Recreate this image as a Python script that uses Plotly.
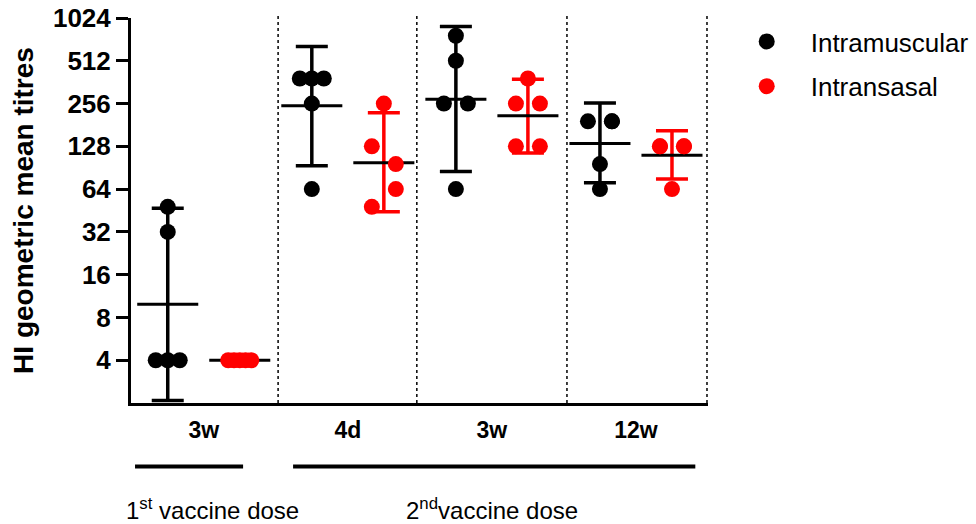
import plotly.graph_objects as go

# ---------------- data ----------------
groups = ["3w", "4d", "3w", "12w"]
series_names = ["Intramuscular", "Intransasal"]

im_values = [[4, 4, 4, 32, 48],
             [384, 384, 384, 256, 64],
             [768, 512, 256, 256, 64],
             [192, 192, 192, 96, 64]]
in_values = [[4, 4, 4, 4, 4],
             [256, 128, 96, 64, 48],
             [384, 256, 256, 128, 128],
             [128, 128, 128, 128, 64]]

im_gmt = [9.9, 247, 274, 134]
in_gmt = [4, 98, 210, 111]

im_err_hi = [47, 646, 892, 258]
im_err_lo = [2.08, 93.6, 85, 71]
in_err_hi = [4, 221, 380, 165]
in_err_lo = [4, 44.3, 115, 75.5]

# horizontal spread of overlapping points (in point-widths)
im_jitter = [[-1, 0, 1, 0, 0], [-1, 0, 1, 0, 0], [0, 0, -1, 1, 0], [-1, 1, 1, 0, 0]]
in_jitter = [[-0.96, -0.48, 0, 0.48, 0.96], [0, -1, 1, 1, -1], [0, -1, 1, -1, 1], [-1, 1, -1, 1, 0]]

dose_labels = ["1<sup>st</sup> vaccine dose", "2<sup>nd</sup>vaccine dose"]

# ---------------- styling ----------------
FONT = "Liberation Sans, Arial, Helvetica, sans-serif"
BLACK = "#000000"
RED = "#FF0000"
OFFSET = 0.25
STEP = 0.0833
y_ticks = [4, 8, 16, 32, 64, 128, 256, 512, 1024]

fig = go.Figure()

series = [
    (series_names[0], im_values, im_gmt, im_err_hi, im_err_lo, im_jitter, -OFFSET, BLACK),
    (series_names[1], in_values, in_gmt, in_err_hi, in_err_lo, in_jitter, OFFSET, RED),
]

for name, vals, gmt, hi, lo, jit, off, col in series:
    xc = [i + off for i in range(len(groups))]
    # mean line + error bars
    fig.add_trace(go.Scatter(
        x=xc, y=gmt, mode="markers", showlegend=False, legendgroup=name,
        hoverinfo="skip",
        marker=dict(symbol="line-ew", size=43.6, color=BLACK,
                    line=dict(width=3, color=BLACK)),
        error_y=dict(type="data", symmetric=False,
                     array=[h - m for h, m in zip(hi, gmt)],
                     arrayminus=[m - l for m, l in zip(gmt, lo)],
                     color=col, thickness=3.5, width=16),
    ))
    # individual points
    px, py = [], []
    for i, (gv, gj) in enumerate(zip(vals, jit)):
        for v, j in zip(gv, gj):
            px.append(i + off + j * STEP)
            py.append(v)
    fig.add_trace(go.Scatter(
        x=px, y=py, mode="markers", name=name, legendgroup=name,
        marker=dict(symbol="circle", size=16, color=col, line=dict(width=0)),
    ))

# dotted group separators
for sx in [0.516, 1.479, 2.521, 3.493]:
    fig.add_shape(type="line", xref="x", yref="paper", x0=sx, x1=sx, y0=0, y1=1.013,
                  line=dict(color=BLACK, width=1.5, dash="dot"))

# dose bracket lines below the axis
for x0, x1 in [(-0.477, 0.273), (0.62, 3.412)]:
    fig.add_shape(type="line", xref="x", yref="paper", x0=x0, x1=x1, y0=-0.165, y1=-0.165,
                  line=dict(color=BLACK, width=4))

for xt, txt in zip([0.06, 2.0], dose_labels):
    fig.add_annotation(x=xt, y=-0.275, xref="x", yref="paper", text=txt, showarrow=False,
                       xanchor="center", yanchor="middle",
                       font=dict(family=FONT, size=24, color=BLACK))

fig.update_layout(
    width=976, height=524,
    margin=dict(l=131, r=268, t=18, b=121, autoexpand=False),
    paper_bgcolor="white", plot_bgcolor="white",
    font=dict(family=FONT, color=BLACK),
    legend=dict(x=1.0255, y=1.0, xanchor="left", yanchor="top",
                font=dict(family=FONT, size=26, color=BLACK),
                itemwidth=78, tracegroupgap=8, bgcolor="rgba(0,0,0,0)"),
    xaxis=dict(range=[-0.505, 3.5], tickvals=list(range(len(groups))), ticktext=groups,
               showline=True, linewidth=3, linecolor=BLACK, ticks="",
               showgrid=False, zeroline=False, automargin=False, ticklabelstandoff=4,
               tickfont=dict(family=FONT, size=23, color=BLACK, weight="bold")),
    yaxis=dict(type="log", range=[0.30103, 3.0103], tickvals=y_ticks,
               ticktext=[str(t) for t in y_ticks], ticklabeloverflow="allow",
               showline=True, linewidth=3, linecolor=BLACK,
               ticks="outside", ticklen=12, tickwidth=3, tickcolor=BLACK,
               showgrid=False, zeroline=False, automargin=False,
               tickfont=dict(family=FONT, size=26, color=BLACK, weight="bold"),
               title=dict(text="HI geometric mean titres", standoff=12,
                          font=dict(family=FONT, size=28, color=BLACK, weight="bold"))),
)

fig.write_html("out.html", config={"displayModeBar": False},
               post_script="document.body.style.margin='0';document.body.style.overflow='hidden';")
